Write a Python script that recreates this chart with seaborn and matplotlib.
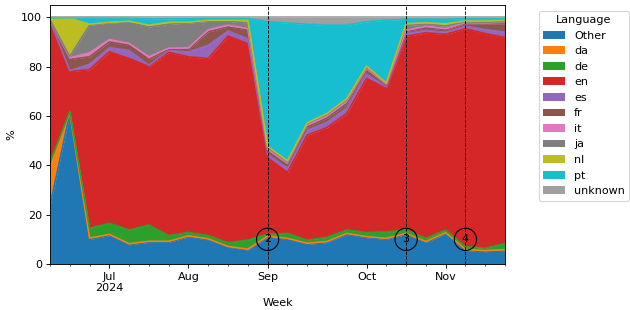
import numpy as np
import pandas as pd
import matplotlib
matplotlib.use("Agg")
import matplotlib.pyplot as plt
import seaborn as sns

# ---- data (weekly share of posts by language, %) ----
week_start = "2024-06-10"
n_weeks = 24
languages = ["Other", "da", "de", "en", "es", "fr", "it", "ja", "nl", "pt", "unknown"]

other   = [23.5, 61.0, 10.0, 11.5, 7.8, 8.8, 8.8, 11.0, 9.8, 6.8, 5.7, 11.0,
           10.0, 8.0, 8.7, 12.0, 10.7, 10.0, 12.0, 8.7, 12.3, 5.5, 5.0, 5.3]
da      = [17.0, 0.3, 0.5, 0.5, 0.4, 0.4, 0.4, 0.4, 0.4, 0.3, 0.3, 0.3,
           0.4, 0.4, 0.4, 0.4, 0.4, 0.4, 0.4, 0.4, 0.4, 0.4, 0.4, 0.5]
de      = [0.6, 0.5, 4.0, 4.5, 5.6, 6.6, 2.3, 1.4, 1.3, 1.5, 3.7, 0.8,
           2.0, 1.3, 1.7, 1.4, 1.6, 2.6, 1.4, 1.3, 1.1, 1.1, 1.0, 2.5]
en      = [57.3, 16.2, 64.3, 69.5, 69.5, 64.2, 74.3, 71.2, 71.8, 83.8, 79.6, 30.9,
           24.7, 42.5, 44.5, 47.2, 62.5, 58.1, 78.5, 83.3, 79.3, 88.4, 87.0, 83.5]
es      = [0.2, 0.4, 2.2, 1.7, 3.3, 0.6, 0.8, 2.0, 5.4, 2.1, 2.0, 1.5,
           1.8, 2.0, 2.2, 2.2, 1.8, 0.8, 1.1, 1.0, 0.9, 1.0, 1.7, 2.2]
fr      = [0.1, 4.5, 3.0, 2.3, 2.1, 2.3, 0.5, 1.0, 5.4, 1.6, 3.7, 1.2,
           1.2, 1.3, 1.6, 1.8, 1.5, 0.6, 0.9, 1.0, 1.0, 1.0, 2.3, 3.4]
it      = [0.1, 0.7, 1.6, 1.0, 0.7, 1.1, 0.4, 0.6, 0.9, 0.7, 0.4, 0.8,
           0.8, 1.0, 1.0, 1.0, 0.8, 0.4, 0.4, 0.7, 0.4, 0.4, 0.3, 0.6]
ja      = [0.1, 0.5, 11.2, 6.7, 8.7, 12.1, 9.7, 10.1, 3.4, 1.6, 2.3, 0.7,
           0.5, 0.4, 0.5, 0.6, 0.5, 0.3, 2.1, 0.8, 1.1, 0.4, 0.3, 0.3]
nl      = [0.5, 15.6, 0.4, 0.3, 0.3, 0.7, 0.8, 0.3, 0.4, 0.4, 1.1, 0.5,
           0.4, 0.3, 0.4, 0.4, 0.4, 0.2, 0.6, 0.6, 0.9, 0.3, 0.5, 0.5]
pt      = [0.4, 0.2, 2.7, 1.9, 1.5, 2.5, 1.4, 1.5, 0.8, 0.8, 0.8, 50.5,
           55.9, 40.0, 35.8, 29.8, 18.0, 25.4, 1.8, 1.4, 1.8, 1.0, 1.0, 0.7]
unknown = [0.2, 0.1, 0.1, 0.1, 0.1, 0.7, 0.6, 0.5, 0.4, 0.4, 0.4, 1.8,
           2.3, 2.8, 3.2, 3.2, 1.8, 1.2, 0.8, 0.8, 0.8, 0.5, 0.5, 0.5]

event_weeks = ["2024-08-26", "2024-10-14", "2024-11-04"]
event_labels = ["2", "3", "4"]
event_label_y = 10

# ---- build frame ----
weeks = pd.date_range(week_start, periods=n_weeks, freq="7D")
series = [other, da, de, en, es, fr, it, ja, nl, pt, unknown]
df = pd.DataFrame(dict(zip(languages, series)), index=weeks)
pos = np.arange(len(weeks))
cum = df.cumsum(axis=1)

long = cum.copy()
long["pos"] = pos
long = long.melt(id_vars="pos", var_name="Language", value_name="value")

palette = list(sns.color_palette("tab10")) + ["#a0a0a0"]
pal = dict(zip(languages, palette))

DPI = 80
fig, ax = plt.subplots(figsize=(630 / DPI, 310 / DPI), dpi=DPI)
fig.subplots_adjust(left=50 / 630, right=505 / 630, bottom=1 - 264 / 310, top=1 - 5 / 310)

handles = []
prev = np.zeros(len(pos))
for lang in languages:
    top = cum[lang].to_numpy()
    h = ax.fill_between(pos, prev, top, color=pal[lang], linewidth=0, label=lang, zorder=1)
    handles.append(h)
    prev = top

sns.lineplot(data=long, x="pos", y="value", hue="Language", hue_order=languages,
             palette=pal, linewidth=1.5, legend=False, ax=ax, estimator=None,
             sort=False, zorder=2)

# month ticks: week containing the 1st of a month
major_pos, major_lab = [], []
for i, w in enumerate(weeks):
    days = pd.date_range(w, periods=7, freq="D")
    firsts = [d for d in days if d.day == 1]
    if firsts:
        d = firsts[0]
        lab = d.strftime("%b")
        if not major_lab:
            lab += "\n" + d.strftime("%Y")
        major_pos.append(i)
        major_lab.append(lab)
ax.set_xticks(major_pos)
ax.set_xticklabels(major_lab)
ax.set_xticks(pos, minor=True)

for ew, el in zip(event_weeks, event_labels):
    xi = weeks.get_loc(pd.Timestamp(ew))
    ax.axvline(xi, color="black", linestyle="--", linewidth=0.8, zorder=3)
    ax.text(xi, event_label_y, el, ha="center", va="center", fontsize=10, zorder=4,
            bbox=dict(boxstyle="circle,pad=0.55", fc="none", ec="black", lw=1))

ax.set_xlim(pos[0], pos[-1])
ax.set_ylim(0, 105)
ax.set_xlabel("Week")
ax.set_ylabel("%")

fig.legend(handles, languages, title="Language", loc="upper left",
           bbox_to_anchor=(533 / 630, 1 - 5 / 310))

fig.savefig("out.png", dpi=DPI)
